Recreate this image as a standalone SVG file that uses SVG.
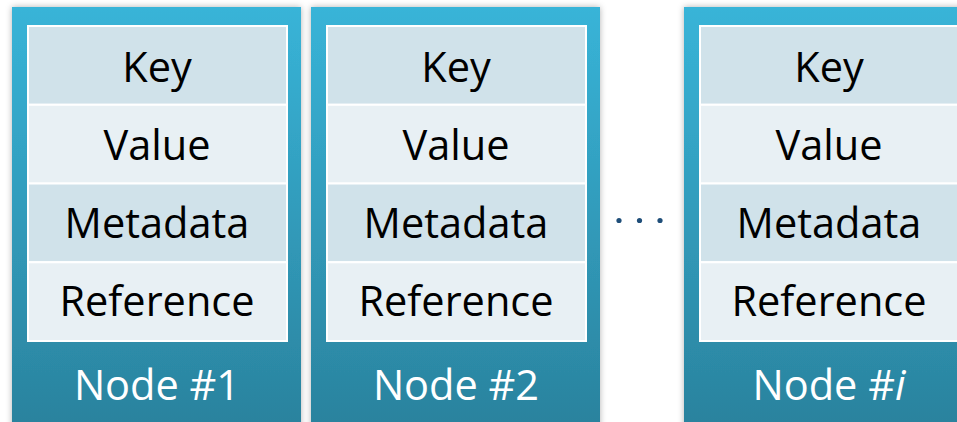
<svg xmlns="http://www.w3.org/2000/svg" width="957" height="422" viewBox="0 0 957 422">
  <defs>
    <linearGradient id="nodeFill" x1="0" y1="0" x2="0" y2="1">
      <stop offset="0" stop-color="#38b4d8"/>
      <stop offset="1" stop-color="#2a819c"/>
    </linearGradient>
    <filter id="shade" x="-10%" y="-10%" width="120%" height="120%">
      <feDropShadow dx="0" dy="0" stdDeviation="3" flood-color="#000" flood-opacity="0.3"/>
    </filter>
  </defs>
  <style>
    .frame { fill: url(#nodeFill); filter: url(#shade); }
    .dark { fill: #d0e2ea; stroke: #ffffff; stroke-width: 2; }
    .light { fill: #e8f0f4; stroke: #ffffff; stroke-width: 2; }
    .field { font-family: "Open Sans", "Liberation Sans", sans-serif; font-size: 41.5px; fill: #000; text-anchor: middle; }
    .title { font-family: "Open Sans", "Liberation Sans", sans-serif; font-size: 41.5px; fill: #ffffff; text-anchor: middle; }
    .dot { fill: #1f4e79; }
  </style>

  <g id="node-1">
    <rect class="frame" x="12" y="7" width="289" height="430"/>
    <rect class="dark" x="28" y="26" width="259" height="78.75"/>
    <rect class="light" x="28" y="104.75" width="259" height="78.75"/>
    <rect class="dark" x="28" y="183.5" width="259" height="78.75"/>
    <rect class="light" x="28" y="262.25" width="259" height="78.75"/>
    <text class="field" x="157" y="82">Key</text>
    <text class="field" x="157" y="160">Value</text>
    <text class="field" x="157" y="238">Metadata</text>
    <text class="field" x="157" y="316">Reference</text>
    <text class="title" x="157" y="400">Node #1</text>
  </g>

  <g id="node-2">
    <rect class="frame" x="311" y="7" width="289" height="430"/>
    <rect class="dark" x="327" y="26" width="259" height="78.75"/>
    <rect class="light" x="327" y="104.75" width="259" height="78.75"/>
    <rect class="dark" x="327" y="183.5" width="259" height="78.75"/>
    <rect class="light" x="327" y="262.25" width="259" height="78.75"/>
    <text class="field" x="456" y="82">Key</text>
    <text class="field" x="456" y="160">Value</text>
    <text class="field" x="456" y="238">Metadata</text>
    <text class="field" x="456" y="316">Reference</text>
    <text class="title" x="456" y="400">Node #2</text>
  </g>

  <g id="ellipsis">
    <circle class="dot" cx="619" cy="220.5" r="2.6"/>
    <circle class="dot" cx="639.5" cy="220.5" r="2.6"/>
    <circle class="dot" cx="660" cy="220.5" r="2.6"/>
  </g>

  <g id="node-i">
    <rect class="frame" x="684" y="7" width="289" height="430"/>
    <rect class="dark" x="700" y="26" width="259" height="78.75"/>
    <rect class="light" x="700" y="104.75" width="259" height="78.75"/>
    <rect class="dark" x="700" y="183.5" width="259" height="78.75"/>
    <rect class="light" x="700" y="262.25" width="259" height="78.75"/>
    <text class="field" x="829" y="82">Key</text>
    <text class="field" x="829" y="160">Value</text>
    <text class="field" x="829" y="238">Metadata</text>
    <text class="field" x="829" y="316">Reference</text>
    <text class="title" x="829" y="400">Node #<tspan font-style="italic">i</tspan></text>
  </g>

  <g id="connectors"/>
</svg>
